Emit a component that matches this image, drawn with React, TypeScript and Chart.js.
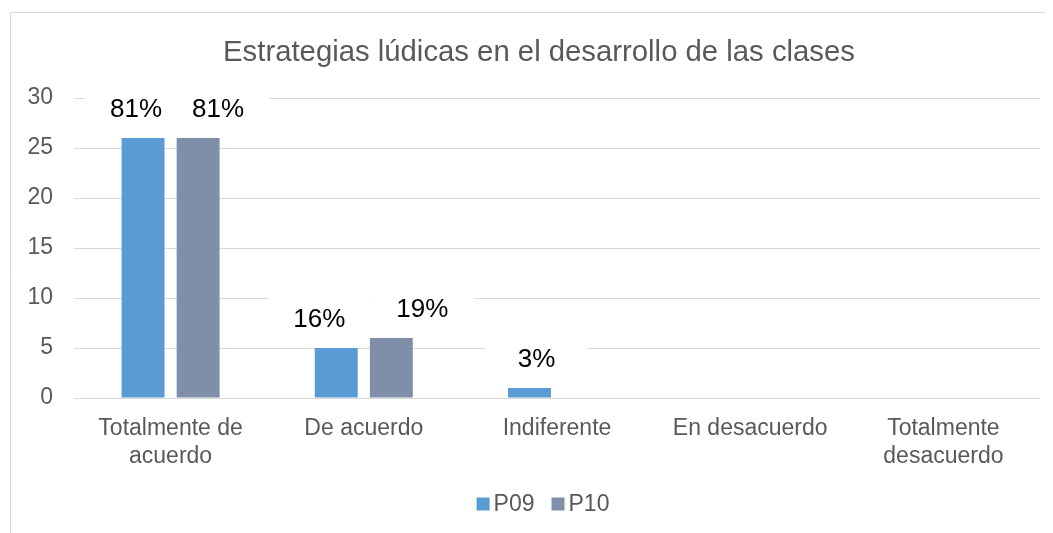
import React, { useEffect, useRef } from "react";
import { Chart, registerables } from "chart.js";

Chart.register(...registerables);

const TITLE = "Estrategias lúdicas en el desarrollo de las clases";
const CATEGORIES: (string | string[])[] = [
  ["Totalmente de", "acuerdo"],
  "De acuerdo",
  "Indiferente",
  "En desacuerdo",
  ["Totalmente", "desacuerdo"],
];
const SERIES_NAMES = ["P09", "P10"];
const P09_VALUES = [26, 5, 1, 0, 0];
const P10_VALUES = [26, 6, 0, 0, 0];
const P09_LABELS = ["81%", "16%", "3%", null, null];
const P10_LABELS = ["81%", "19%", null, null, null];
const Y_MIN = 0;
const Y_MAX = 30;
const Y_STEP = 5;

const COLORS = ["#5B9BD5", "#7F8FA9"];
// manual horizontal nudges of the data labels (px, relative to bar centre)
const LABEL_NUDGE = [
  [-7, -17, 7, 0, 0],
  [20, 31, 0, 0, 0],
];

const FONT = "'Liberation Sans', Arial, sans-serif";
const W = 1045;
const H = 525;

const frameAndText = {
  id: "frameAndText",
  beforeDraw(chart: any) {
    const ctx = chart.ctx;
    ctx.save();
    ctx.fillStyle = "#ffffff";
    ctx.fillRect(0, 0, chart.width, chart.height);
    ctx.strokeStyle = "#d9d9d9";
    ctx.lineWidth = 1;
    ctx.beginPath();
    ctx.moveTo(2.5, chart.height);
    ctx.lineTo(2.5, 4.5);
    ctx.lineTo(chart.width, 4.5);
    ctx.stroke();
    ctx.restore();
  },
  afterDraw(chart: any) {
    const ctx = chart.ctx;
    ctx.save();
    // title
    ctx.fillStyle = "#595959";
    ctx.font = `29.3px ${FONT}`;
    ctx.textAlign = "center";
    ctx.textBaseline = "middle";
    ctx.fillText(TITLE, 531, 45);
    // legend
    ctx.font = `23px ${FONT}`;
    ctx.textAlign = "left";
    const box = 13;
    const gap = 4;
    const itemGap = 17;
    const widths = SERIES_NAMES.map((n) => box + gap + ctx.measureText(n).width);
    const total = widths.reduce((a, b) => a + b, 0) + itemGap * (widths.length - 1);
    let x = 535 - total / 2;
    const y = 496;
    SERIES_NAMES.forEach((n, i) => {
      ctx.fillStyle = COLORS[i];
      ctx.fillRect(x, y - box / 2, box, box);
      ctx.fillStyle = "#595959";
      ctx.fillText(n, x + box + gap, y + 1);
      x += widths[i] + itemGap;
    });
    ctx.restore();
  },
};

const LABEL_SETS = [P09_LABELS, P10_LABELS];
const dataLabels = {
  id: "dataLabels",
  beforeDatasetsDraw(chart: any) {
    const ctx = chart.ctx;
    ctx.save();
    ctx.fillStyle = "#ffffff";
    LABEL_SETS.forEach((labels, d) => {
      const meta = chart.getDatasetMeta(d);
      labels.forEach((lab, i) => {
        if (!lab) return;
        const el = meta.data[i];
        const cx = el.x + LABEL_NUDGE[d][i];
        const cy = el.y - 29;
        ctx.fillRect(cx - 51, cy - 24, 102, 48);
      });
    });
    ctx.restore();
  },
  afterDatasetsDraw(chart: any) {
    const ctx = chart.ctx;
    ctx.save();
    ctx.fillStyle = "#000000";
    ctx.font = `26px ${FONT}`;
    ctx.textAlign = "center";
    ctx.textBaseline = "middle";
    LABEL_SETS.forEach((labels, d) => {
      const meta = chart.getDatasetMeta(d);
      labels.forEach((lab, i) => {
        if (!lab) return;
        const el = meta.data[i];
        ctx.fillText(lab, el.x + LABEL_NUDGE[d][i], el.y - 28);
      });
    });
    ctx.restore();
  },
};

export default function App() {
  const ref = useRef<HTMLCanvasElement | null>(null);
  useEffect(() => {
    document.documentElement.style.overflow = "hidden";
    if (!ref.current) return;
    const chart = new Chart(ref.current, {
      type: "bar",
      data: {
        labels: CATEGORIES as any,
        datasets: [
          {
            label: SERIES_NAMES[0],
            data: P09_VALUES,
            backgroundColor: COLORS[0],
            categoryPercentage: 0.57,
            barPercentage: 0.78,
          },
          {
            label: SERIES_NAMES[1],
            data: P10_VALUES,
            backgroundColor: COLORS[1],
            categoryPercentage: 0.57,
            barPercentage: 0.78,
          },
        ],
      },
      options: {
        responsive: false,
        animation: false,
        layout: { padding: { top: 90, left: 0, right: 13, bottom: 0 } },
        plugins: {
          legend: { display: false },
          title: { display: false },
          tooltip: { enabled: false },
        },
        scales: {
          x: {
            grid: { display: false },
            border: { display: false },
            afterFit: (s: any) => {
              s.height = 135;
            },
            ticks: {
              color: "#595959",
              padding: 9,
              maxRotation: 0,
              autoSkip: false,
              font: { family: FONT, size: 23, lineHeight: 1.22 },
            },
          },
          y: {
            min: Y_MIN,
            max: Y_MAX,
            afterFit: (s: any) => {
              s.width = 66;
            },
            grid: { color: "#d9d9d9", lineWidth: 1, drawTicks: false },
            border: { display: false },
            ticks: {
              stepSize: Y_STEP,
              color: "#595959",
              padding: 21,
              font: { family: FONT, size: 23 },
            },
          },
        },
      },
      plugins: [frameAndText, dataLabels],
    });
    return () => chart.destroy();
  }, []);
  return (
    <div style={{ width: W, height: H, overflow: "hidden" }}>
      <canvas ref={ref} width={W} height={H} style={{ display: "block" }} />
    </div>
  );
}
